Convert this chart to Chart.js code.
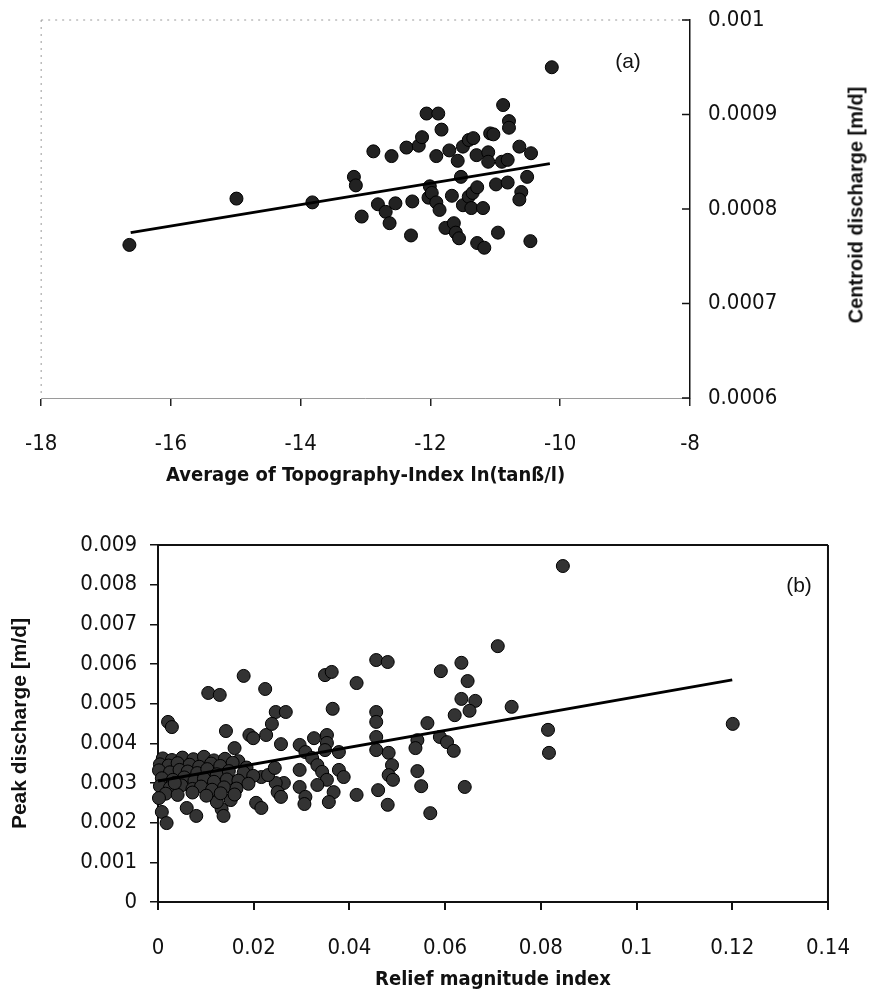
<!DOCTYPE html>
<html>
<head>
<meta charset="utf-8">
<script src="https://cdn.jsdelivr.net/npm/chart.js@4.4.1/dist/chart.umd.min.js"></script>
<style>
  html, body { margin: 0; padding: 0; background: #fff; }
  #wrap { position: relative; width: 875px; height: 995px; overflow: hidden; }
  canvas { position: absolute; left: 0; }
  #chartA { top: 0; }
  #chartB { top: 495px; }
  .note { position: absolute; transform: translate(-50%, -50%); font: 21px 'Liberation Sans', Arial, sans-serif; color: #111; white-space: nowrap; }
  #titleA { position: absolute; left: 856px; top: 205px; transform: translate(-50%, -50%) rotate(-90deg);
            font: bold 20px 'Liberation Sans', Arial, sans-serif; color: #111; white-space: nowrap; }
</style>
</head>
<body>
<div id="wrap">
  <canvas id="chartA" width="875" height="495"></canvas>
  <canvas id="chartB" width="875" height="500"></canvas>
  <div class="note" style="left:628px; top:61px;">(a)</div>
  <div class="note" style="left:799px; top:585px;">(b)</div>
  <div id="titleA">Centroid discharge [m/d]</div>
</div>
<script>
// (a) average topography index vs centroid discharge
var topoIndex = [
  -16.64, -14.99, -13.82, -13.18, -13.15, -13.06, -12.88, -12.81, -12.69, -12.63,
  -12.60, -12.54, -12.37, -12.30, -12.28, -12.18, -12.13, -12.06, -11.88, -12.03,
  -12.01, -11.98, -11.91, -11.91, -11.86, -11.83, -11.77, -11.71, -11.67, -11.64,
  -11.61, -11.56, -11.58, -11.53, -11.50, -11.50, -11.41, -11.34, -11.41, -11.35,
  -11.28, -11.37, -11.29, -11.28, -11.19, -11.17, -11.11, -11.11, -11.08, -11.03,
  -10.99, -10.96, -10.90, -10.88, -10.81, -10.81, -10.79, -10.79, -10.63, -10.60,
  -10.63, -10.51, -10.46, -10.45, -10.13
];
var centroidQ = [
  0.000762, 0.000811, 0.000807, 0.000834, 0.000825, 0.000792, 0.000861, 0.000805, 0.000797, 0.000785,
  0.000856, 0.000806, 0.000865, 0.000772, 0.000808, 0.000867, 0.000876, 0.000901, 0.000901, 0.000812,
  0.000824, 0.000817, 0.000856, 0.000807, 0.000799, 0.000884, 0.000780, 0.000862, 0.000814, 0.000785,
  0.000775, 0.000769, 0.000851, 0.000834, 0.000866, 0.000804, 0.000873, 0.000875, 0.000813, 0.000817,
  0.000823, 0.000801, 0.000857, 0.000764, 0.000801, 0.000759, 0.000860, 0.000850, 0.000880, 0.000879,
  0.000826, 0.000775, 0.000850, 0.000910, 0.000852, 0.000828, 0.000893, 0.000886, 0.000866, 0.000818,
  0.000810, 0.000834, 0.000766, 0.000859, 0.000950
];
var topoFitX = [-16.62, -10.16];
var topoFitY = [0.000775, 0.000848];

// (b) relief magnitude index vs peak discharge
var reliefIndex = [
  // right hand side
  0.0846, 0.1201, 0.0815, 0.0817, 0.0710, 0.0739, 0.0591, 0.0634, 0.0647, 0.0634,
  0.0663, 0.0651, 0.0620, 0.0563, 0.0542, 0.0538, 0.0589, 0.0604, 0.0618, 0.0482,
  0.0489, 0.0482, 0.0491, 0.0542, 0.0550, 0.0641, 0.0460, 0.0480, 0.0569, 0.0456,
  0.0480, 0.0456, 0.0456, 0.0456, 0.0456,
  // middle
  0.0349, 0.0363, 0.0415, 0.0365, 0.0246, 0.0267, 0.0326, 0.0353, 0.0353, 0.0349,
  0.0296, 0.0308, 0.0378, 0.0322, 0.0333, 0.0343, 0.0378, 0.0388, 0.0296, 0.0353,
  0.0296, 0.0333, 0.0367, 0.0415, 0.0308, 0.0306, 0.0357, 0.0257, 0.0263, 0.0246,
  0.0250, 0.0257, 0.0216, 0.0230, 0.0244,
  // left
  0.0179, 0.0105, 0.0129, 0.0224, 0.0021, 0.0029, 0.0142, 0.0191, 0.0199, 0.0226,
  0.0238, 0.0160, 0.0008, 0.0018, 0.0060, 0.0080, 0.0133, 0.0137, 0.0205, 0.0216,
  0.0123, 0.0152,
  // dense cluster near the origin
  0.0010, 0.0029, 0.0051, 0.0074, 0.0096, 0.0117, 0.0140, 0.0168,
  0.0004, 0.0022, 0.0041, 0.0066, 0.0086, 0.0111, 0.0130, 0.0156, 0.0185,
  0.0002, 0.0025, 0.0045, 0.0062, 0.0082, 0.0103, 0.0123, 0.0148, 0.0179, 0.0199,
  0.0008, 0.0031, 0.0055, 0.0076, 0.0096, 0.0117, 0.0144, 0.0168, 0.0189,
  0.0004, 0.0025, 0.0049, 0.0072, 0.0090, 0.0113, 0.0138, 0.0164,
  0.0016, 0.0041, 0.0072, 0.0101, 0.0131, 0.0160,
  0.0002, 0.0035
];
var peakQ = [
  0.00847, 0.00449, 0.00434, 0.00376, 0.00645, 0.00492, 0.00582, 0.00603, 0.00557, 0.00512,
  0.00507, 0.00482, 0.00471, 0.00451, 0.00408, 0.00388, 0.00416, 0.00403, 0.00381, 0.00376,
  0.00345, 0.00320, 0.00308, 0.00330, 0.00292, 0.00290, 0.00282, 0.00245, 0.00224, 0.00610,
  0.00605, 0.00479, 0.00454, 0.00416, 0.00383,
  0.00572, 0.00580, 0.00552, 0.00487, 0.00479, 0.00479, 0.00413, 0.00421, 0.00401, 0.00383,
  0.00396, 0.00378, 0.00378, 0.00363, 0.00345, 0.00328, 0.00333, 0.00315, 0.00333, 0.00308,
  0.00290, 0.00295, 0.00277, 0.00270, 0.00265, 0.00247, 0.00252, 0.00398, 0.00300, 0.00300,
  0.00277, 0.00265, 0.00315, 0.00320, 0.00338,
  0.00570, 0.00527, 0.00522, 0.00537, 0.00454, 0.00441, 0.00431, 0.00421, 0.00413, 0.00421,
  0.00449, 0.00388, 0.00227, 0.00199, 0.00237, 0.00217, 0.00234, 0.00217, 0.00250, 0.00237,
  0.00252, 0.00257,
  0.00362, 0.00358, 0.00364, 0.00360, 0.00366, 0.00357, 0.00361, 0.00355,
  0.00347, 0.00344, 0.00350, 0.00346, 0.00341, 0.00349, 0.00343, 0.00351, 0.00339,
  0.00332, 0.00327, 0.00333, 0.00329, 0.00325, 0.00335, 0.00322, 0.00330, 0.00326, 0.00318,
  0.00312, 0.00308, 0.00314, 0.00305, 0.00311, 0.00303, 0.00309, 0.00306, 0.00298,
  0.00292, 0.00288, 0.00294, 0.00285, 0.00291, 0.00283, 0.00289, 0.00286,
  0.00273, 0.00270, 0.00276, 0.00268, 0.00274, 0.00271,
  0.00262, 0.00300
];
var reliefFitX = [0, 0.12];
var reliefFitY = [0.00305, 0.0056];

function toPoints(xs, ys) {
  return xs.map(function (x, i) { return { x: x, y: ys[i] }; });
}
function fmt(v) { return String(+v.toFixed(6)); }

var narrow = "'Liberation Sans Narrow', 'DejaVu Sans Condensed', 'Arial Narrow', sans-serif";
var tickFont = { family: narrow, size: 22 };
var xTitleFont = { family: narrow, size: 20, weight: 'bold' };

// frame lines not covered by the axes, plus inward ticks on the right axis
var frameLines = {
  id: 'frame',
  beforeDatasetsDraw: function (chart, args, o) {
    var a = chart.chartArea, c = chart.ctx;
    c.save();
    c.strokeStyle = o.color;
    c.lineWidth = o.width;
    c.setLineDash(o.dash || []);
    c.beginPath();
    if (o.top) { c.moveTo(a.left, a.top); c.lineTo(a.right, a.top); }
    if (o.left) { c.moveTo(a.left, a.top); c.lineTo(a.left, a.bottom); }
    if (o.right) { c.moveTo(a.right, a.top); c.lineTo(a.right, a.bottom); }
    c.stroke();
    if (o.innerTicks) {
      var ys = chart.scales.y;
      c.setLineDash([]);
      c.strokeStyle = '#111';
      c.lineWidth = 1.5;
      c.beginPath();
      ys.ticks.forEach(function (t) {
        var p = ys.getPixelForValue(t.value);
        c.moveTo(a.right - 8, p); c.lineTo(a.right, p);
      });
      c.stroke();
    }
    c.restore();
  }
};

new Chart(document.getElementById('chartA'), {
  type: 'scatter',
  data: {
    datasets: [{
      data: toPoints(topoIndex, centroidQ),
      pointRadius: 6.5, backgroundColor: '#222', borderColor: '#000', borderWidth: 1,
      clip: false, order: 1
    }, {
      type: 'line',
      data: toPoints(topoFitX, topoFitY),
      borderColor: '#000', borderWidth: 3, pointRadius: 0, fill: false, order: 0
    }]
  },
  options: {
    responsive: false, animation: false,
    layout: { padding: { top: 20, left: 24, right: 0, bottom: 0 } },
    plugins: {
      legend: { display: false }, tooltip: { enabled: false },
      frame: { color: '#9a9a9a', width: 1, dash: [2, 5], top: true, left: true, innerTicks: true }
    },
    scales: {
      x: {
        type: 'linear', position: 'bottom', min: -18, max: -8,
        ticks: { stepSize: 2, padding: 25, font: tickFont, color: '#111', callback: fmt },
        grid: { drawOnChartArea: false, tickLength: 8, color: '#222', lineWidth: 1.5 },
        border: { color: '#9a9a9a', width: 1, dash: [2, 5] },
        title: { display: true, text: 'Average of Topography-Index ln(tanß/l)', font: xTitleFont, color: '#111', padding: { top: 0, bottom: 7 } },
        afterFit: function (s) { s.height = 97; }
      },
      y: {
        type: 'linear', position: 'right', min: 0.0006, max: 0.001,
        ticks: { stepSize: 0.0001, padding: 18, font: tickFont, color: '#111', callback: fmt },
        grid: { display: false, drawTicks: false },
        border: { color: '#111', width: 1.5 },
        afterFit: function (s) { s.width = 185; s.paddingTop = 12; s.paddingBottom = 12; }
      }
    }
  },
  plugins: [frameLines]
});

new Chart(document.getElementById('chartB'), {
  type: 'scatter',
  data: {
    datasets: [{
      data: toPoints(reliefIndex, peakQ),
      pointRadius: 6.5, backgroundColor: '#333', borderColor: '#000', borderWidth: 1,
      clip: false, order: 1
    }, {
      type: 'line',
      data: toPoints(reliefFitX, reliefFitY),
      borderColor: '#000', borderWidth: 3, pointRadius: 0, fill: false, order: 0
    }]
  },
  options: {
    responsive: false, animation: false,
    layout: { padding: { top: 50, left: 0, right: 35, bottom: 0 } },
    plugins: {
      legend: { display: false }, tooltip: { enabled: false },
      frame: { color: '#111', width: 2, top: true, right: true }
    },
    scales: {
      x: {
        type: 'linear', position: 'bottom', min: 0, max: 0.14,
        ticks: { stepSize: 0.02, padding: 25, font: tickFont, color: '#111', callback: fmt },
        grid: { drawOnChartArea: false, tickLength: 8, color: '#111', lineWidth: 2 },
        border: { color: '#111', width: 2 },
        title: { display: true, text: 'Relief magnitude index', font: xTitleFont, color: '#111', padding: { top: 0, bottom: 3 } },
        afterFit: function (s) { s.height = 93; }
      },
      y: {
        type: 'linear', position: 'left', min: 0, max: 0.009,
        ticks: { stepSize: 0.001, padding: 13, font: tickFont, color: '#111', callback: fmt },
        grid: { drawOnChartArea: false, tickLength: 8, color: '#111', lineWidth: 1.5 },
        border: { color: '#111', width: 2 },
        title: { display: true, text: 'Peak discharge [m/d]', font: { family: "'Liberation Sans', Arial, sans-serif", size: 21, weight: 'bold' }, color: '#111', padding: { top: 8, bottom: 0 } },
        afterFit: function (s) { s.width = 158; }
      }
    }
  },
  plugins: [frameLines]
});
</script>
</body>
</html>
